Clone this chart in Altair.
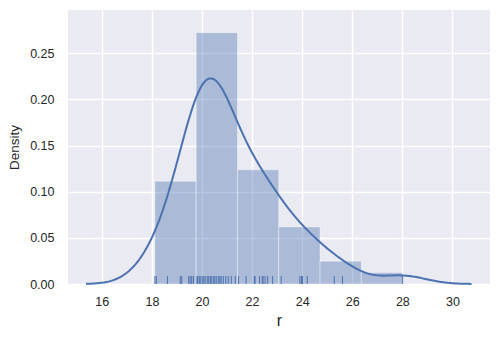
import altair as alt
import numpy as np
import pandas as pd

# Observations read from the rug (49 values)
r_values = [
    18.12, 18.18, 18.62, 19.13, 19.19, 19.47, 19.53, 19.59, 19.66,
    19.80, 19.83, 19.89, 19.93, 20.01, 20.07, 20.13, 20.21, 20.27, 20.33, 20.37,
    20.45, 20.51, 20.57, 20.65, 20.71, 20.77, 20.85, 20.95, 21.05, 21.17, 21.33,
    21.46, 21.76, 22.09, 22.12, 22.30, 22.41, 22.44, 22.52, 22.62, 22.82,
    23.16, 23.91, 23.97, 24.01, 24.20,
    25.28, 25.61,
    28.01,
]
n_bins = 6
x_ticks = [16, 18, 20, 22, 24, 26, 28, 30]
y_ticks = [0.0, 0.05, 0.10, 0.15, 0.20, 0.25]
x_domain = [14.65, 31.5]
y_domain = [0.0, 0.297]

COLOR = "#4c72b0"
FONT = "Liberation Sans"

arr = np.array(r_values)
dens, edges = np.histogram(arr, bins=n_bins, density=True)
hist_df = pd.DataFrame({"lo": edges[:-1], "hi": edges[1:], "density": dens})
obs_df = pd.DataFrame({"r": arr})

bw = arr.std(ddof=1) * len(arr) ** (-1 / 5)
kde_extent = [float(arr.min() - 3 * bw), float(arr.max() + 3 * bw)]

W, H = 422, 274

xscale = alt.Scale(domain=x_domain, nice=False, zero=False)
yscale = alt.Scale(domain=y_domain, nice=False, zero=False)

xaxis = alt.Axis(values=x_ticks, title="r", labelFontSize=12.5, titleFontSize=16,
                 titleFontWeight="normal", labelPadding=11, titlePadding=5,
                 grid=True, domain=False, ticks=False, labelFlush=False)
yaxis = alt.Axis(values=y_ticks, format=".2f", title="Density", labelFontSize=12.5,
                 titleFontSize=13.5, titleFontWeight="normal", labelPadding=14,
                 titlePadding=8, grid=True, domain=False, ticks=False)

bars = alt.Chart(hist_df).mark_rect(
    fill=COLOR, fillOpacity=0.4, stroke="white", strokeOpacity=0.4, strokeWidth=1
).encode(
    x=alt.X("lo:Q", scale=xscale, axis=xaxis),
    x2="hi:Q",
    y=alt.Y("density:Q", scale=yscale, axis=yaxis),
    y2=alt.datum(0),
)

kde = alt.Chart(obs_df).transform_density(
    "r", as_=["r", "density"], bandwidth=float(bw), extent=kde_extent, steps=300
).mark_line(color=COLOR, strokeWidth=2).encode(
    x=alt.X("r:Q", scale=xscale),
    y=alt.Y("density:Q", scale=yscale),
)

rug = alt.Chart(obs_df).mark_rule(color=COLOR, strokeWidth=1).encode(
    x=alt.X("r:Q", scale=xscale),
    y=alt.value(H - 8),
    y2=alt.value(H),
)

chart = alt.layer(bars, kde, rug).properties(
    width=W, height=H,
    autosize=alt.AutoSizeParams(type="none"),
    padding={"left": 60, "top": 2, "right": 1, "bottom": 48},
    background="white",
).configure_view(
    fill="#EAEAF2", stroke=None
).configure_axis(
    gridColor="white", gridWidth=1.5, labelColor="#262626", titleColor="#262626",
    labelFont=FONT, titleFont=FONT
)

chart.save("out.html", embed_options={"renderer": "svg", "actions": False})
